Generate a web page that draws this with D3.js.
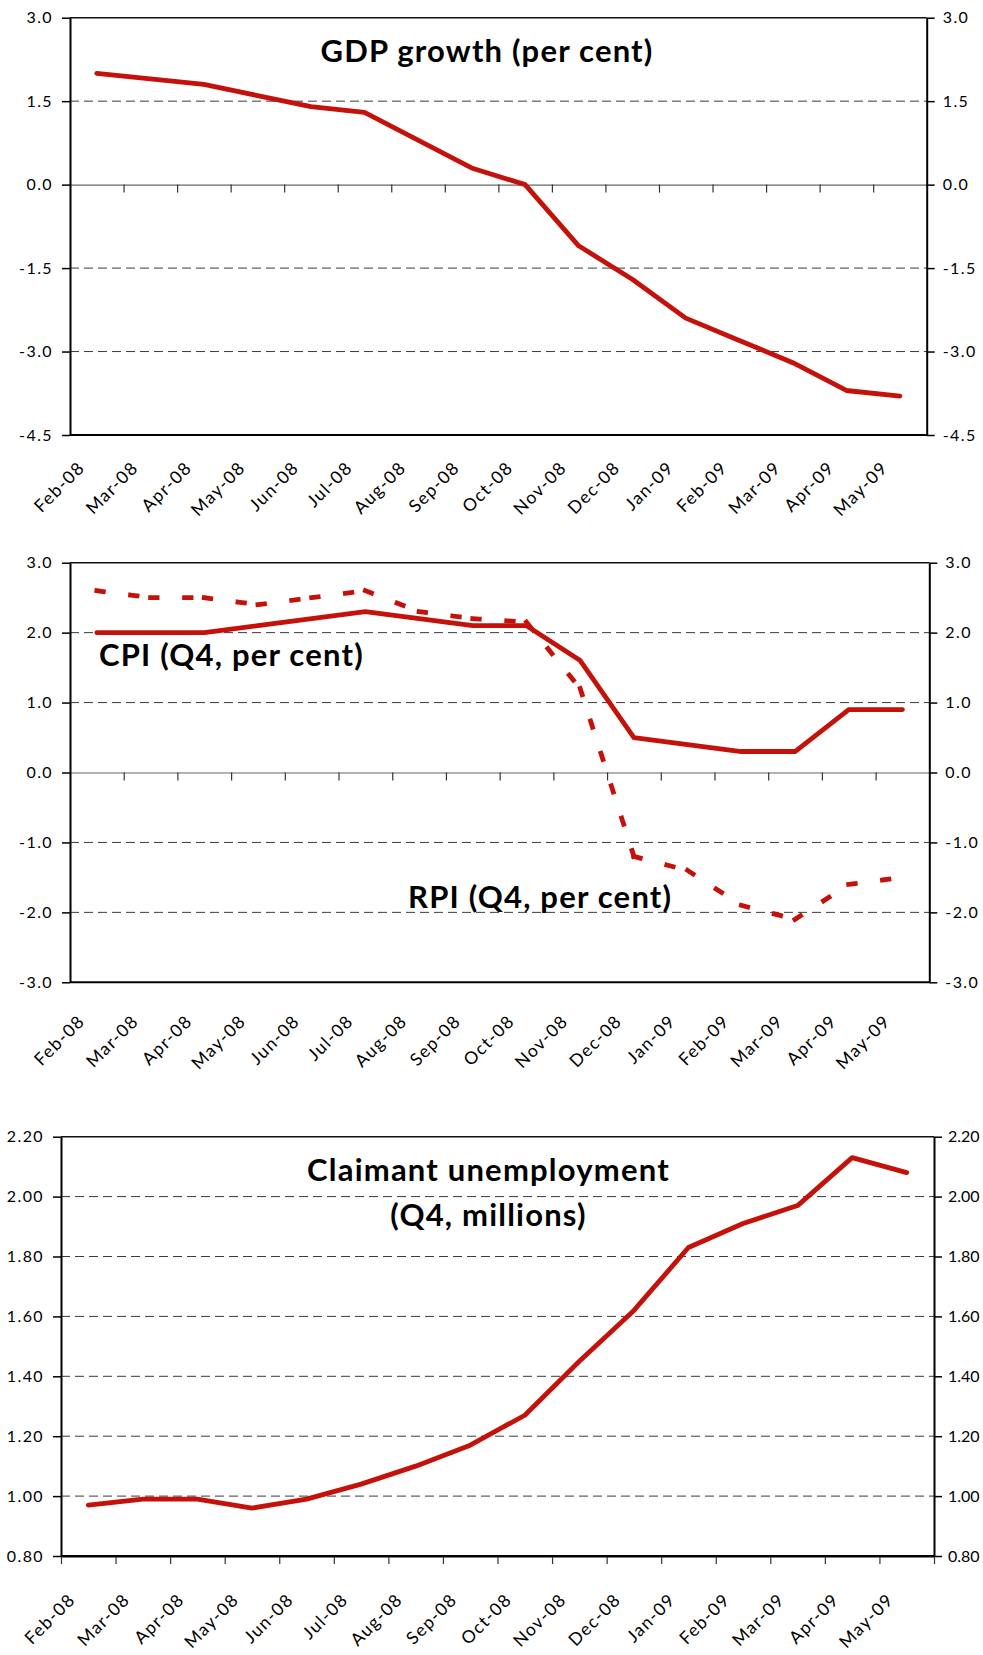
<!DOCTYPE html>
<html>
<head>
<meta charset="utf-8">
<script src="https://cdn.jsdelivr.net/npm/d3@7"></script>
<style>
    body { margin: 0; background: #fff; }
    svg { display: block; }
    .tick text { font-family: Lato, sans-serif; font-size: 16px; fill: #000; letter-spacing: 1.4px; }
    .xlabel { font-family: Lato, sans-serif; font-size: 17.5px; fill: #000; letter-spacing: 1.3px; }
    .title { font-family: Lato, sans-serif; font-weight: bold; font-size: 31px; fill: #000; letter-spacing: 1.2px; }
</style>
</head>
<body>
<svg id="chart" width="983" height="1655"></svg>
<script>
const months = ['Feb-08', 'Mar-08', 'Apr-08', 'May-08', 'Jun-08', 'Jul-08', 'Aug-08', 'Sep-08',
    'Oct-08', 'Nov-08', 'Dec-08', 'Jan-09', 'Feb-09', 'Mar-09', 'Apr-09', 'May-09'];

const gdpGrowth = [2.0, 1.9, 1.8, 1.6, 1.4, 1.3, 0.8, 0.3, 0.0, -1.1, -1.7, -2.4, -2.8, -3.2, -3.7, -3.8];
const cpi = [2.0, 2.0, 2.0, 2.1, 2.2, 2.3, 2.2, 2.1, 2.1, 1.6, 0.5, 0.4, 0.3, 0.3, 0.9, 0.9];
const rpi = [2.6, 2.5, 2.5, 2.4, 2.5, 2.6, 2.3, 2.2, 2.15, 1.2, -1.2, -1.4, -1.9, -2.1, -1.6, -1.5];
const claimants = [0.97, 0.99, 0.99, 0.96, 0.99, 1.04, 1.10, 1.17, 1.27, 1.45, 1.62, 1.83, 1.91, 1.97, 2.13, 2.08];

const gdpTicks = [3.0, 1.5, 0.0, -1.5, -3.0, -4.5];
const inflationTicks = [3.0, 2.0, 1.0, 0.0, -1.0, -2.0, -3.0];
const claimantTicks = [2.2, 2.0, 1.8, 1.6, 1.4, 1.2, 1.0, 0.8];

const red = '#c4120a';
const svg = d3.select('#chart');

function panel(opt) {
    const g = svg.append('g');
    const x = d3.scaleBand().domain(months).range([opt.left, opt.right]);
    const xi = d3.scaleLinear().domain([0, months.length]).range([opt.left, opt.right]);
    const y = d3.scaleLinear().domain(opt.domain).range([opt.bottom, opt.top]);
    const fmt = d => d.toFixed(opt.digits);

    // dashed gridlines
    g.append('g').selectAll('line')
        .data(opt.ticks.filter(t => t !== opt.domain[0] && t !== opt.domain[1] && t !== opt.axisAt))
        .join('line')
        .attr('x1', opt.left).attr('x2', opt.right)
        .attr('y1', d => y(d)).attr('y2', d => y(d))
        .attr('stroke', '#3a3a3a').attr('stroke-width', 1)
        .attr('stroke-dasharray', '9,5');

    // category axis with ticks at band boundaries
    const atBottom = opt.axisAt === opt.domain[0];
    const ticks = atBottom ? d3.range(0, months.length + 1) : d3.range(1, months.length);
    const xa = d3.axisBottom(xi).tickValues(ticks).tickSize(8).tickSizeOuter(0).tickFormat('');
    const xg = g.append('g').attr('transform', 'translate(0,' + y(opt.axisAt) + ')').call(xa);
    xg.select('.domain').attr('stroke', atBottom ? '#000' : '#666').attr('stroke-width', atBottom ? 2 : 1.2);
    xg.selectAll('.tick line').attr('stroke', '#333').attr('stroke-width', 1.2);

    // frame
    g.append('line').attr('x1', opt.left).attr('x2', opt.right)
        .attr('y1', opt.top).attr('y2', opt.top).attr('stroke', '#111').attr('stroke-width', 1.6);
    g.append('line').attr('x1', opt.left).attr('x2', opt.right)
        .attr('y1', opt.bottom).attr('y2', opt.bottom).attr('stroke', '#000').attr('stroke-width', 2);

    const yl = d3.axisLeft(y).tickValues(opt.ticks).tickSize(8).tickSizeOuter(0).tickPadding(9).tickFormat(fmt);
    const yr = d3.axisRight(y).tickValues(opt.ticks).tickSize(8).tickSizeOuter(0).tickPadding(opt.rightPad).tickFormat(fmt);
    [[yl, opt.left, null], [yr, opt.right, opt.rightSpacing]].forEach(function(a) {
        const ag = g.append('g').attr('transform', 'translate(' + a[1] + ',0)').call(a[0]);
        ag.select('.domain').attr('stroke', '#000').attr('stroke-width', 2);
        ag.selectAll('.tick line').attr('stroke', '#000').attr('stroke-width', 1.5);
        if (a[2] !== null) ag.selectAll('.tick text').style('letter-spacing', a[2]);
    });

    // rotated month labels
    g.append('g').selectAll('text').data(months).join('text')
        .classed('xlabel', true)
        .attr('text-anchor', 'end')
        .attr('transform', d => 'translate(' + (x(d) + x.bandwidth() / 2 + opt.labelDx) + ',' + (opt.bottom + opt.labelDy) + ') rotate(-45)')
        .text(d => d);

    const cx = i => x(months[i]) + x.bandwidth() / 2;
    const line = d3.line().x(d => cx(d[0])).y(d => y(d[1]));

    opt.series.forEach(function(s) {
        const pts = s.values.map((v, i) => [i, v]);
        if (s.dashed) {
            // dash pattern restarts at every data point, like the source
            g.append('g').selectAll('path').data(d3.pairs(pts)).join('path')
                .attr('d', d => line(d))
                .attr('fill', 'none').attr('stroke', red).attr('stroke-width', 4.8)
                .attr('stroke-linecap', 'square')
                .attr('stroke-dasharray', '6.5,27.5');
        } else {
            g.append('path').datum(pts)
                .attr('d', line)
                .attr('fill', 'none').attr('stroke', red).attr('stroke-width', 4.8)
                .attr('stroke-linejoin', 'round').attr('stroke-linecap', 'round');
        }
    });

    opt.titles.forEach(function(t) {
        g.append('text').classed('title', true)
            .attr('x', t.x).attr('y', t.y)
            .attr('text-anchor', t.anchor)
            .text(t.text);
    });
}

panel({
    left: 70, right: 926.7, top: 17.7, bottom: 435,
    domain: [-4.5, 3], ticks: gdpTicks, digits: 1, axisAt: 0,
    rightPad: 8, rightSpacing: null,
    labelDx: -11, labelDy: 34,
    series: [{ values: gdpGrowth }],
    titles: [{ text: 'GDP growth (per cent)', x: 487, y: 61.7, anchor: 'middle' }]
});

panel({
    left: 70, right: 929.3, top: 562.7, bottom: 982.3,
    domain: [-3, 3], ticks: inflationTicks, digits: 1, axisAt: 0,
    rightPad: 8, rightSpacing: null,
    labelDx: -11, labelDy: 40,
    series: [{ values: rpi, dashed: true }, { values: cpi }],
    titles: [
        { text: 'CPI (Q4, per cent)', x: 99, y: 666, anchor: 'start' },
        { text: 'RPI (Q4, per cent)', x: 408, y: 907.7, anchor: 'start' }
    ]
});

panel({
    left: 61, right: 934, top: 1136.7, bottom: 1556,
    domain: [0.8, 2.2], ticks: claimantTicks, digits: 2, axisAt: 0.8,
    rightPad: 6, rightSpacing: '0px',
    labelDx: -12, labelDy: 45,
    series: [{ values: claimants }],
    titles: [
        { text: 'Claimant unemployment', x: 488.5, y: 1181, anchor: 'middle' },
        { text: '(Q4, millions)', x: 488.5, y: 1226, anchor: 'middle' }
    ]
});
</script>
</body>
</html>
